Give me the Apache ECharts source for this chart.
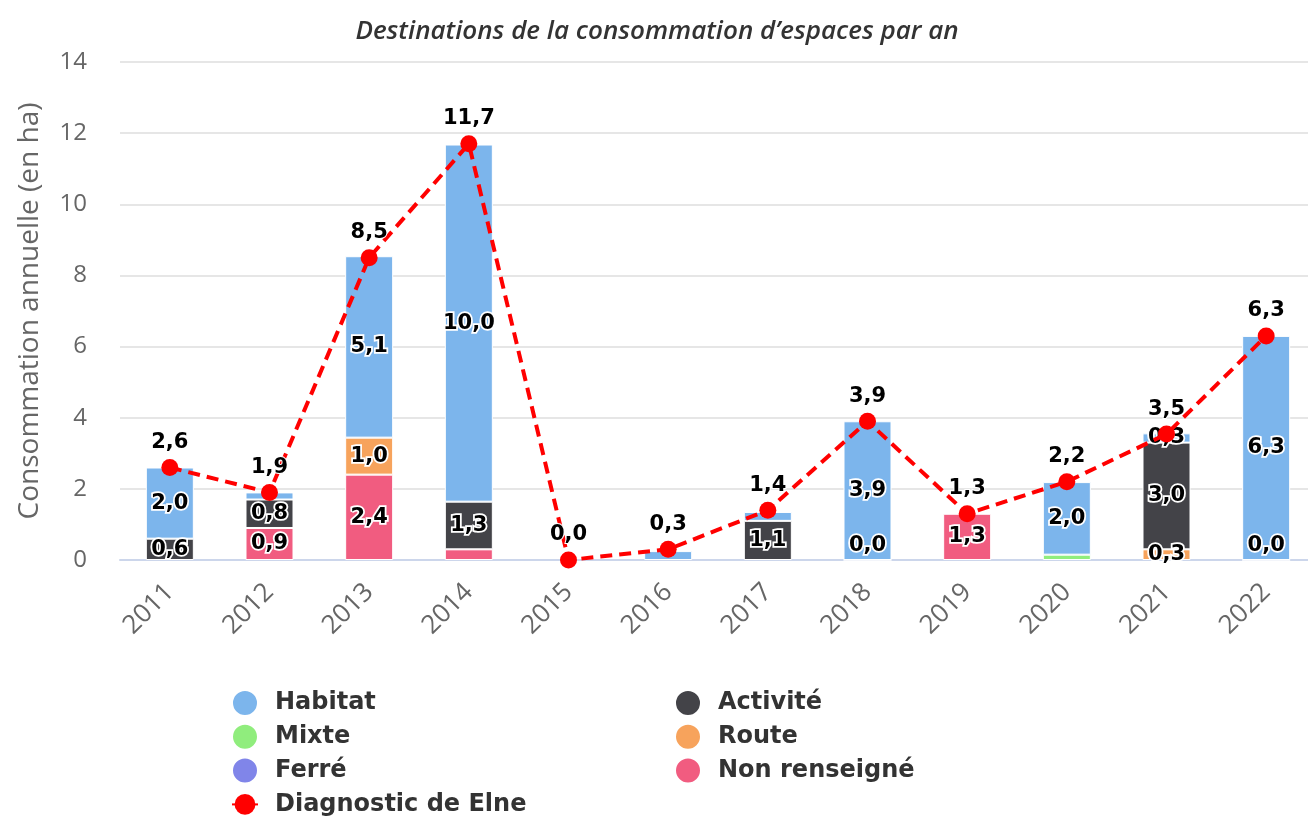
<!DOCTYPE html>
<html>
<head>
<meta charset="utf-8">
<script src="https://cdn.jsdelivr.net/npm/echarts@6/dist/echarts.min.js"></script>
<style>
html,body{margin:0;padding:0;background:#fff;overflow:hidden;width:1308px;height:817px;}
#chart{width:1316px;height:817px;}
</style>
</head>
<body>
<div id="chart"></div>
<script>
const categories = ['2011','2012','2013','2014','2015','2016','2017','2018','2019','2020','2021','2022'];
const habitat     = [2.0, 0.2, 5.1, 10.04, null, 0.25, 0.25, 3.9, null, 2.04, 0.26, 6.3];
const mixte       = [null, null, null, null, null, null, null, null, null, 0.15, null, null];
const ferre       = [null, null, null, null, null, null, null, null, null, null, null, null];
const activite    = [0.6, 0.8, null, 1.34, null, null, 1.1, 0, null, null, 3.0, 0];
const route       = [null, null, 1.04, null, null, null, null, null, null, null, 0.3, null];
const nonRenseigne= [null, 0.9, 2.4, 0.3, null, null, null, null, 1.3, null, null, null];
const diagnostic  = [2.6, 1.9, 8.5, 11.7, 0.0, 0.3, 1.4, 3.9, 1.3, 2.2, 3.54, 6.3];
const yTicks = [0, 2, 4, 6, 8, 10, 12, 14];

// labels that the reference does not display (too small segments)
const hiddenLabels = {
  'Habitat': ['2012', '2016', '2017'],
  'Non renseigné': ['2014'],
  'Mixte': ['2020']
};

const fmt = v => (v == null ? '' : Number(v).toFixed(1).replace('.', ','));

function barSeries(name, values, color) {
  const hidden = hiddenLabels[name] || [];
  return {
    name: name,
    type: 'bar',
    stack: 'total',
    barWidth: 48,
    itemStyle: { color: color, borderColor: '#ffffff', borderWidth: 1 },
    label: {
      show: true,
      position: 'inside',
      formatter: p => fmt(p.value),
      color: '#000',
      fontFamily: 'DejaVu Sans',
      fontWeight: 'bold',
      fontSize: 21,
      textBorderColor: '#ffffff',
      textBorderWidth: 3.5
    },
    data: values.map((v, i) => {
      if (v === null) return '-';
      const item = { value: v };
      if (hidden.indexOf(categories[i]) >= 0) item.label = { show: false };
      else if (v === 0) item.label = { position: 'insideBottom', distance: 4 };
      return item;
    })
  };
}

const colors = {
  'Habitat': '#7cb5ec',
  'Activité': '#434348',
  'Mixte': '#90ed7d',
  'Route': '#f7a35c',
  'Ferré': '#8085e9',
  'Non renseigné': '#f15c80'
};

const legendText = {
  color: '#333',
  fontFamily: 'DejaVu Sans',
  fontWeight: 'bold',
  fontSize: 24,
  lineHeight: 26,
  padding: [0, 0, 0, 12]
};

const chart = echarts.init(document.getElementById('chart'), null, { renderer: 'canvas' });
chart.setOption({
  animation: false,
  backgroundColor: '#ffffff',
  title: {
    text: 'Destinations de la consommation d\u2019espaces par an',
    left: 652,
    textAlign: 'center',
    top: 14,
    textStyle: {
      color: '#333',
      fontFamily: 'Open Sans',
      fontStyle: 'italic',
      fontWeight: 600,
      fontSize: 26
    }
  },
  legend: [
    {
      orient: 'horizontal',
      left: 231,
      top: 689,
      padding: 0,
      width: 60,
      itemWidth: 26,
      itemHeight: 26,
      itemGap: 5.8,
      textStyle: legendText,
      data: [
        { name: 'Habitat', icon: 'circle' },
        { name: 'Mixte', icon: 'circle' },
        { name: 'Ferré', icon: 'circle' },
        { name: 'Diagnostic de Elne', lineStyle: { type: 'solid' } }
      ]
    },
    {
      orient: 'horizontal',
      left: 674,
      top: 689,
      padding: 0,
      width: 60,
      itemWidth: 26,
      itemHeight: 26,
      itemGap: 5.8,
      textStyle: legendText,
      data: [
        { name: 'Activité', icon: 'circle' },
        { name: 'Route', icon: 'circle' },
        { name: 'Non renseigné', icon: 'circle' }
      ]
    }
  ],
  grid: { left: 120, right: 0, top: 62, bottom: 257, containLabel: false, outerBoundsMode: 'none' },
  xAxis: {
    type: 'category',
    data: categories,
    axisLine: { lineStyle: { color: '#ccd6eb', width: 2 } },
    axisTick: { show: false },
    axisLabel: {
      rotate: 45,
      color: '#666',
      fontFamily: 'Open Sans',
      fontSize: 26,
      margin: 28,
      interval: 0
    }
  },
  yAxis: {
    type: 'value',
    min: yTicks[0],
    max: yTicks[yTicks.length - 1],
    interval: 2,
    name: 'Consommation annuelle (en ha)',
    nameLocation: 'middle',
    nameGap: 76,
    nameTextStyle: { color: '#666', fontFamily: 'Open Sans', fontSize: 28 },
    axisLine: { show: false },
    axisTick: { show: false },
    axisLabel: { color: '#666', fontFamily: 'Open Sans', fontSize: 24, margin: 33 },
    splitLine: { lineStyle: { color: '#e6e6e6', width: 2 } }
  },
  series: [
    barSeries('Non renseigné', nonRenseigne, colors['Non renseigné']),
    barSeries('Route', route, colors['Route']),
    barSeries('Activité', activite, colors['Activité']),
    barSeries('Ferré', ferre, colors['Ferré']),
    barSeries('Mixte', mixte, colors['Mixte']),
    barSeries('Habitat', habitat, colors['Habitat']),
    {
      name: 'Diagnostic de Elne',
      type: 'line',
      z: 10,
      data: diagnostic,
      symbol: 'circle',
      symbolSize: 17,
      itemStyle: { color: '#ff0000' },
      lineStyle: { color: '#ff0000', width: 4, type: [12, 7] },
      label: {
        show: true,
        position: 'top',
        distance: 6,
        formatter: p => fmt(p.value),
        color: '#000',
        fontFamily: 'DejaVu Sans',
        fontWeight: 'bold',
        fontSize: 21,
        textBorderColor: '#ffffff',
        textBorderWidth: 2
      }
    }
  ]
});
</script>
</body>
</html>
